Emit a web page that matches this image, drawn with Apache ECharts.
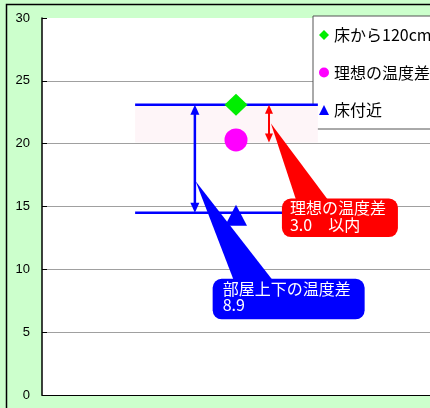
<!DOCTYPE html>
<html><head><meta charset="utf-8">
<script src="https://cdn.jsdelivr.net/npm/echarts@6/dist/echarts.min.js"></script>
<style>html,body{margin:0;padding:0;background:#ccffcc;overflow:hidden}#c{width:430px;height:408px}</style>
</head><body><div id="c"></div>
<script>
// ---- data ----
const seriesNames = ['床から120cm', '理想の温度差', '床付近'];
const seriesValues = [23.1, 20.3, 14.3];
const pointX = [50, 50, 50];
const yTickValues = [0, 5, 10, 15, 20, 25, 30];
const upperLevel = 23.1;          // 床から120cm level line
const lowerLevel = 14.5;          // 床付近 level line
const idealDiff = 3.0;            // 理想の温度差 band height
const levelSpanX = [24, 71.1];    // x-extent of the level lines / band
const roomArrowX = 39.4;
const idealArrowX = 58.5;
const roomTip = [39.6, 17.0];
const idealTip = [59.0, 21.6];
const roomLabel = ['部屋上下の温度差', '8.9'];
const idealLabel = ['理想の温度差', '3.0\u3000以内'];

const symbols = ['diamond', 'circle', 'triangle'];
const symbolSizes = [[23, 22], 23, [22, 21]];
const colors = ['#00ee00', '#ff00ff', '#0000ff'];
const JP = '"Noto Sans CJK JP", "Noto Sans", sans-serif';

function arrowShape(p1, p2, color, lw, hw, hh) {
  const x = p1[0];
  return [
    {type: 'line', shape: {x1: x, y1: p1[1] + hh - 2, x2: x, y2: p2[1] - hh + 2}, style: {stroke: color, lineWidth: lw}},
    {type: 'polygon', shape: {points: [[x, p1[1]], [x - hw / 2, p1[1] + hh], [x + hw / 2, p1[1] + hh]]}, style: {fill: color}},
    {type: 'polygon', shape: {points: [[x, p2[1]], [x - hw / 2, p2[1] - hh], [x + hw / 2, p2[1] - hh]]}, style: {fill: color}}
  ];
}

function renderLevels(params, api) {
  const ch = [];
  const a = api.coord([levelSpanX[0], upperLevel]);
  const b = api.coord([levelSpanX[1], upperLevel - idealDiff]);
  ch.push({type: 'rect', z2: 0, shape: {x: a[0], y: a[1], width: b[0] - a[0], height: b[1] - a[1]}, style: {fill: '#fef5f8'}});
  [upperLevel, lowerLevel].forEach(v => {
    const p = api.coord([levelSpanX[0], v]), q = api.coord([levelSpanX[1], v]);
    ch.push({type: 'line', shape: {x1: p[0], y1: p[1], x2: q[0], y2: q[1]}, style: {stroke: '#0000ff', lineWidth: 2.5}});
  });
  arrowShape(api.coord([roomArrowX, upperLevel]), api.coord([roomArrowX, lowerLevel]), '#0000ff', 2.5, 9, 10).forEach(e => ch.push(e));
  arrowShape(api.coord([idealArrowX, upperLevel]), api.coord([idealArrowX, upperLevel - idealDiff]), '#ff0000', 2, 8, 9).forEach(e => ch.push(e));
  return {type: 'group', children: ch};
}

function callout(tip, cfg, color, lines) {
  const bx = tip[0] + cfg.dx, by = tip[1] + cfg.dy;
  return [
    {type: 'polygon', shape: {points: [tip, [tip[0] + cfg.b1, by + 4], [tip[0] + cfg.b2, by + 4]]}, style: {fill: color}},
    {type: 'rect', shape: {x: bx, y: by, width: cfg.w, height: cfg.h, r: 9}, style: {fill: color}},
    {type: 'text', style: {text: lines.join('\n'), x: bx + cfg.tx, y: by + cfg.ty, fill: '#fff',
      fontSize: 16, fontFamily: JP, lineHeight: cfg.lh, verticalAlign: 'top', align: 'left'}}
  ];
}

function renderCallouts(params, api) {
  const ch = [];
  callout(api.coord(idealTip), {dx: 11, dy: 75, w: 116, h: 38.5, b1: 26, b2: 59, tx: 8, ty: 1, lh: 17}, '#ff0000', idealLabel).forEach(e => ch.push(e));
  callout(api.coord(roomTip), {dx: 17, dy: 97.5, w: 152, h: 40.5, b1: 39, b2: 79, tx: 10, ty: 2, lh: 16}, '#0000ff', roomLabel).forEach(e => ch.push(e));
  return {type: 'group', children: ch};
}

const chart = echarts.init(document.getElementById('c'), null, {renderer: 'canvas'});
const scatterSeries = seriesNames.map((n, i) => ({
  name: n, type: 'scatter', z: 6,
  symbol: symbols[i], symbolSize: symbolSizes[i],
  itemStyle: {color: colors[i], opacity: 1},
  data: [[pointX[i], seriesValues[i]]]
}));

chart.setOption({
  animation: false,
  backgroundColor: '#ccffcc',
  graphic: [{type: 'rect', z: -100, silent: true,
    shape: {x: 6.5, y: 4.5, width: 600, height: 600},
    style: {fill: '#ccffcc', stroke: '#000', lineWidth: 1.5}}],
  grid: {left: 42, top: 18, right: 0, bottom: 13, show: true, backgroundColor: '#ffffff', borderWidth: 0},
  xAxis: {type: 'value', min: 0, max: 100, axisLabel: {show: false}, axisTick: {show: false},
    splitLine: {show: false}, axisLine: {show: true, lineStyle: {color: '#000', width: 1}}},
  yAxis: {type: 'value', min: yTickValues[0], max: yTickValues[yTickValues.length - 1], interval: 5,
    axisLine: {show: true, lineStyle: {color: '#000', width: 1.5}},
    axisTick: {show: true, inside: true, length: 5, lineStyle: {color: '#000'}},
    axisLabel: {margin: 12, color: '#000', fontSize: 13, fontFamily: 'Liberation Sans, Arial, sans-serif',
      formatter: v => yTickValues.includes(v) ? String(v) : ''},
    splitLine: {show: true, showMaxLine: false, showMinLine: false, lineStyle: {color: '#a0a0a0', width: 1}}},
  legend: {
    data: seriesNames, orient: 'vertical', left: 313, top: 16, z: 4,
    padding: [11, 40, 11, 6], itemGap: 21.5, itemWidth: 10, itemHeight: 10,
    backgroundColor: '#fff', borderColor: '#555', borderWidth: 1, borderRadius: 0,
    textStyle: {fontSize: 16, fontFamily: JP, color: '#000', lineHeight: 16},
    selectedMode: false
  },
  series: [
    {type: 'custom', name: 'levels', z: 5, silent: true, clip: false, renderItem: renderLevels, data: [[0, 0]]},
    ...scatterSeries,
    {type: 'custom', name: 'callouts', z: 8, silent: true, clip: false, renderItem: renderCallouts, data: [[0, 0]]}
  ]
});
</script></body></html>
